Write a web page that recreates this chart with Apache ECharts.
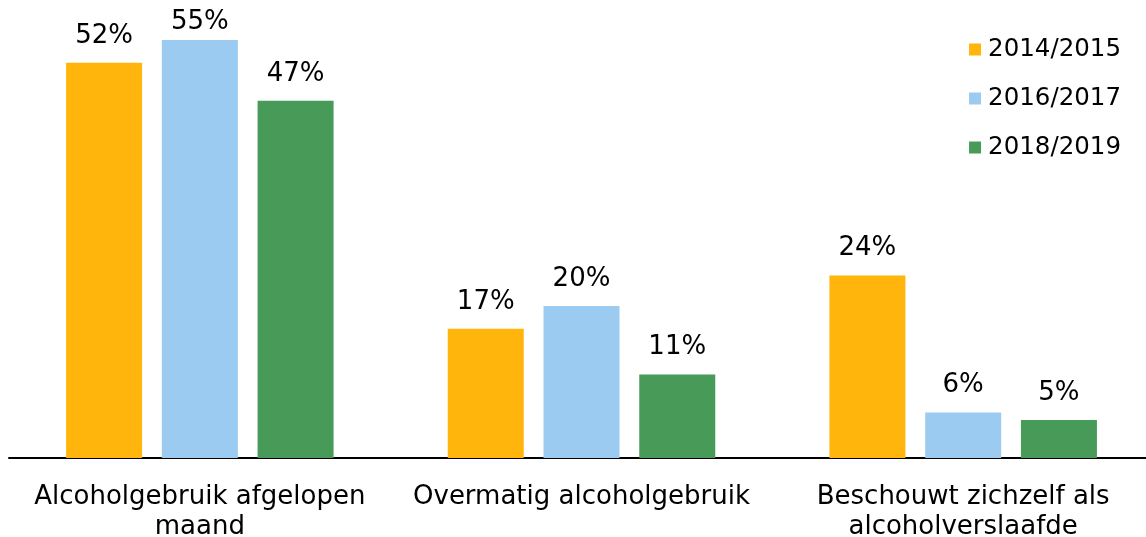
<!DOCTYPE html>
<html>
<head>
<meta charset="utf-8">
<script src="https://cdn.jsdelivr.net/npm/echarts@6/dist/echarts.min.js"></script>
<style>
html,body{margin:0;padding:0;background:#fff;}
#main{width:1146px;height:537px;}
</style>
</head>
<body>
<div id="main"></div>
<script>
var categories=['Alcoholgebruik afgelopen\nmaand','Overmatig alcoholgebruik','Beschouwt zichzelf als\nalcoholverslaafde'];
var seriesNames=['2014/2015','2016/2017','2018/2019'];
var values2014=[52,17,24];
var values2016=[55,20,6];
var values2018=[47,11,5];
var colors=['#FFB50B','#9BCBF0','#489A59'];

var fontName='DejaVu Sans';

function makeSeries(name,data){
    return {
        name:name,
        type:'bar',
        barWidth:76,
        barGap:'26%',
        data:data,
        label:{
            show:true,
            position:'top',
            distance:14,
            formatter:'{c}%',
            color:'#000',
            fontFamily:fontName,
            fontSize:26
        },
        // keep labels inside the chart area, like the original does with 55%
        labelLayout:function(params){
            var r=params.labelRect;
            if(r.y<9){
                return {x:r.x,y:9,align:'left',verticalAlign:'top'};
            }
            return {};
        }
    };
}

var myChart=echarts.init(document.getElementById('main'));
var option={
    animation:false,
    color:colors,
    grid:{
        left:9,
        right:-8,
        top:2,
        bottom:79,
        outerBoundsMode:'none',
        containLabel:false
    },
    legend:{
        orient:'vertical',
        right:20,
        top:32,
        itemWidth:12,
        itemHeight:12,
        itemGap:24,
        icon:'rect',
        textStyle:{
            fontFamily:fontName,
            fontSize:24.5,
            color:'#000',
            padding:[0,0,0,2]
        },
        data:seriesNames
    },
    xAxis:{
        type:'category',
        data:categories,
        axisLine:{lineStyle:{color:'#000',width:2}},
        axisTick:{show:false},
        axisLabel:{
            color:'#000',
            fontFamily:fontName,
            fontSize:26,
            lineHeight:30,
            margin:24,
            interval:0
        }
    },
    yAxis:{
        type:'value',
        min:0,
        max:60,
        show:false
    },
    series:[
        makeSeries(seriesNames[0],values2014),
        makeSeries(seriesNames[1],values2016),
        makeSeries(seriesNames[2],values2018)
    ]
};
myChart.setOption(option);
</script>
</body>
</html>
